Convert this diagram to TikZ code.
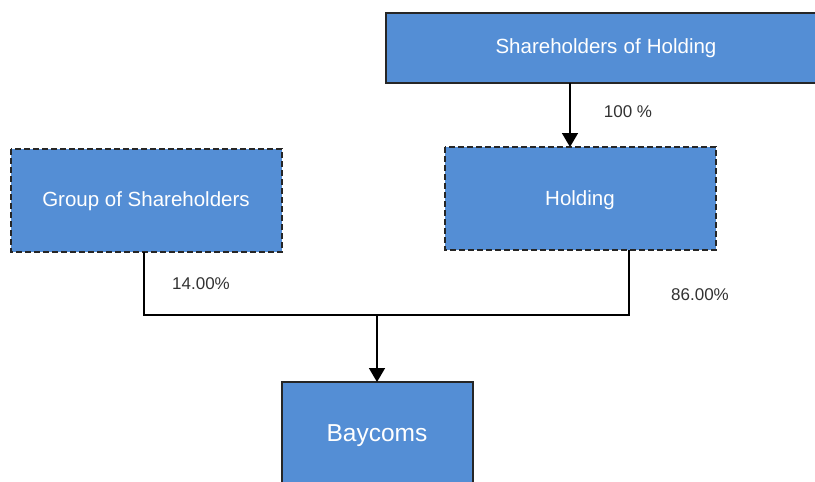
\documentclass[tikz,border=0pt]{standalone}
\usepackage{fontspec}
\setmainfont{Liberation Sans}
\usetikzlibrary{arrows.meta}
\definecolor{boxblue}{RGB}{84,142,213}
\definecolor{lbl}{RGB}{50,50,50}
\begin{document}
\begin{tikzpicture}[x=1pt,y=-1pt,
  solidbox/.style={draw=black!85,line width=1.2pt,fill=boxblue,text=white},
  dashbox/.style={draw=black!85,line width=1.2pt,dash pattern=on 6pt off 3pt,fill=boxblue,text=white},
  conn/.style={line width=1.6pt,black},
  arr/.style={conn,-{Triangle[length=14pt,width=16pt]}},
  boxtext/.style={text=white,font=\fontsize{20.5}{24}\selectfont},
  pct/.style={text=lbl,font=\fontsize{17}{20}\selectfont}]
\useasboundingbox (0,0) rectangle (815,482);
\clip (0,0) rectangle (815,482);
\path[solidbox] (386,13) rectangle (830,83);
\node[boxtext] (soh) at (606,48.5) {Shareholders\hspace{0.3em}of\hspace{0.3em}Holding};
\coordinate (sohb) at (570,83);
\path[dashbox] (445,147) rectangle (716,250);
\node[boxtext] (hold) at (580,200) {Holding};
\coordinate (holdt) at (570,147);
\coordinate (holdb) at (629,250);
\path[dashbox] (11,149) rectangle (282,252);
\node[boxtext] (grp) at (146,201) {Group of Shareholders};
\coordinate (grpb) at (144,252);
\path[solidbox] (282,382) rectangle (473,500);
\node[text=white,font=\fontsize{24.5}{28}\selectfont] (bay) at (377,435.5) {Baycoms};
\coordinate (bayt) at (377,382);
\coordinate (jl) at (144,315);
\coordinate (jr) at (629,315);
\coordinate (jm) at (377,315);
\draw[arr] (sohb) -- (holdt);
\draw[conn] (grpb) -- (jl) -- (jr) -- (holdb);
\draw[arr] (jm) -- (bayt);
\node[pct] (p100) at (628,112) {100 \%};
\node[pct] (p14) at (201,284) {14.00\%};
\node[pct] (p86) at (700,295) {86.00\%};
\end{tikzpicture}
\end{document}
